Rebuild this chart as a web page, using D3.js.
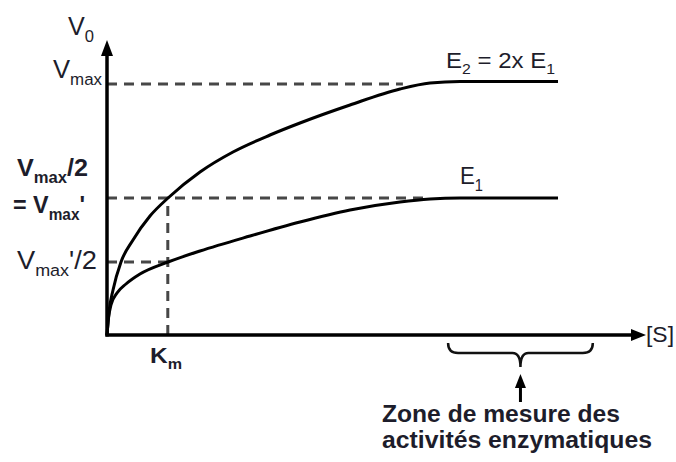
<!doctype html>
<html lang="fr">
<head>
  <meta charset="utf-8">
  <title>Vitesse initiale en fonction de [S]</title>
  <style>
    body { margin: 0; background: #fff; }
    #chart svg { display: block; }
    .lbl { fill: #1d1d2b; font-family: "Liberation Sans", Arial, sans-serif; }
    .curve { fill: none; stroke: #000; stroke-width: 3; }
    .guide { stroke: #474747; stroke-width: 3; stroke-dasharray: 10 7; fill: none; }
    .axis-line { stroke: #000; stroke-width: 3.5; fill: none; }
  </style>
</head>
<body>
<div id="chart"></div>

<script src="https://d3js.org/d3.v7.min.js"></script>
<script>
  // values ([S] and V0 in arbitrary units, Vmax = 100)
  const sE2 = [0, 0.37, 1.12, 2.6, 4.83, 7.99, 11.34, 17.29, 23.42, 30.3, 35.87, 45.17, 54.46, 60.04, 65.61, 83.83];
  const vE2 = [0, 9.16, 17.93, 29.08, 37.85, 47.41, 54.58, 64.94, 72.91, 79.68, 84.46, 91.63, 98.01, 100.4, 101.0, 101.0];
  const sE1 = [0, 0.28, 0.74, 1.86, 3.53, 6.13, 11.34, 17.29, 26.58, 35.87, 45.17, 54.46, 60.04, 65.61, 83.83];
  const vE1 = [0, 6.77, 11.95, 16.73, 20.32, 24.3, 29.08, 33.47, 39.44, 45.02, 49.8, 52.99, 54.18, 54.58, 54.58];

  const vmax = 100;
  const vmaxHalf = 54.6;       // = Vmax'
  const vmaxPrimeHalf = 29.1;
  const km = 11.3;
  const zoneStart = 63.4, zoneEnd = 90.3;   // zone de mesure

  const width = 676, height = 462;

  const svg = d3.select('#chart').append('svg')
    .attr('width', width)
    .attr('height', height);

  const x = d3.scaleLinear().domain([0, 100]).range([107, 645]);
  const y = d3.scaleLinear().domain([0, 100]).range([335, 84]);

  // dashed guides
  const guides = svg.append('g');
  guides.append('line').attr('class', 'guide')
    .attr('x1', x(0)).attr('x2', x(55)).attr('y1', y(vmax)).attr('y2', y(vmax));
  guides.append('line').attr('class', 'guide')
    .attr('x1', x(0)).attr('x2', x(59)).attr('y1', y(vmaxHalf)).attr('y2', y(vmaxHalf));
  guides.append('line').attr('class', 'guide')
    .attr('x1', x(0)).attr('x2', x(km)).attr('y1', y(vmaxPrimeHalf)).attr('y2', y(vmaxPrimeHalf));
  guides.append('line').attr('class', 'guide')
    .attr('x1', x(km)).attr('x2', x(km)).attr('y1', y(0)).attr('y2', y(vmaxHalf));

  // curves
  const line = d3.line()
    .x(d => x(d[0]))
    .y(d => y(d[1]))
    .curve(d3.curveMonotoneX);

  svg.append('path').attr('class', 'curve').attr('d', line(d3.zip(sE2, vE2)));
  svg.append('path').attr('class', 'curve').attr('d', line(d3.zip(sE1, vE1)));

  // axes with arrow heads
  svg.append('line').attr('class', 'axis-line')
    .attr('x1', x(0)).attr('y1', y(0) + 1.5).attr('x2', x(0)).attr('y2', 52);
  svg.append('path').attr('d', d3.line()([[x(0), 40], [x(0) - 6, 56], [x(0) + 6, 56]]) + 'Z');
  svg.append('line').attr('class', 'axis-line')
    .attr('x1', x(0) - 1.5).attr('y1', y(0)).attr('x2', 634).attr('y2', y(0));
  svg.append('path').attr('d', d3.line()([[x(100) + 1, y(0)], [x(100) - 14, y(0) - 6], [x(100) - 14, y(0) + 6]]) + 'Z');

  // brace under the measuring zone
  const bx0 = x(zoneStart), bx1 = x(zoneEnd), bm = (bx0 + bx1) / 2;
  const by0 = 343, by1 = 353, by2 = 367;
  const brace = `M${bx0},${by0} Q${bx0},${by1} ${bx0 + 10},${by1} L${bm - 8},${by1} Q${bm},${by1} ${bm},${by2}` +
    ` Q${bm},${by1} ${bm + 8},${by1} L${bx1 - 10},${by1} Q${bx1},${by1} ${bx1},${by0}`;
  svg.append('path').attr('d', brace).attr('fill', 'none').attr('stroke', '#111').attr('stroke-width', 2.5);
  svg.append('line').attr('x1', bm).attr('x2', bm).attr('y1', 402).attr('y2', 384)
    .attr('stroke', '#000').attr('stroke-width', 3);
  svg.append('path').attr('d', d3.line()([[bm, 374], [bm - 5.5, 388], [bm + 5.5, 388]]) + 'Z');

  // text with subscripts: parts = [[text, isSub], ...]
  function label(px, py, parts, size, opts = {}) {
    const t = svg.append('text').attr('class', 'lbl')
      .attr('x', px).attr('y', py)
      .attr('font-size', size)
      .attr('font-weight', opts.bold ? 'bold' : 'normal')
      .attr('text-anchor', opts.anchor || 'start');
    let shift = 0;
    parts.forEach(([txt, sub]) => {
      const want = sub ? size * 0.28 : 0;
      t.append('tspan')
        .attr('dy', want - shift)
        .attr('font-size', sub ? size * 0.66 : size)
        .text(txt);
      shift = want;
    });
    if (opts.len) t.attr('textLength', opts.len).attr('lengthAdjust', 'spacingAndGlyphs');
    return t;
  }

  label(68, 35, [['V', false], ['0', true]], 25, { len: 26 });
  label(53, y(vmax) - 6, [['V', false], ['max', true]], 26, { len: 49 });
  label(17, y(vmaxHalf) - 22, [['V', false], ['max', true], ['/2', false]], 24, { bold: true, len: 71 });
  label(13, y(vmaxHalf) + 15, [['= V', false], ['max', true], ["'", false]], 24, { bold: true, len: 72 });
  label(17, y(vmaxPrimeHalf) + 7, [['V', false], ['max', true], ["'/2", false]], 26, { len: 80 });
  label(150, 363, [['K', false], ['m', true]], 22, { bold: true, len: 32 });
  label(646, 342, [['[S]', false]], 22, { len: 28 });
  label(446, 68, [['E', false], ['2', true], [' = 2x E', false], ['1', true]], 22, { len: 109 });
  label(460, 184, [['E', false], ['1', true]], 24, { len: 23 });

  label(382, 422, [['Zone de mesure des', false]], 23, { bold: true, len: 238 });
  label(382, 448, [['activités enzymatiques', false]], 23, { bold: true, len: 270 });
</script>
</body>
</html>
